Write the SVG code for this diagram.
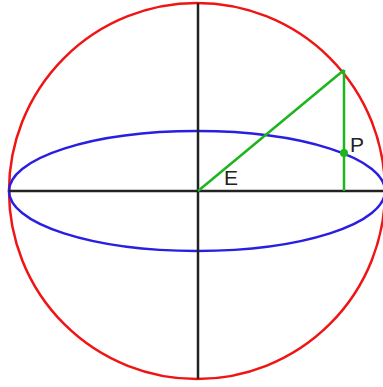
<svg xmlns="http://www.w3.org/2000/svg" width="383" height="387" viewBox="0 0 383 387">
<style>
text{font-family:"Liberation Sans",Arial,sans-serif;font-size:21px;fill:#222}
</style>
<rect x="0" y="0" width="383" height="387" fill="#ffffff"/>
<g id="sphere" fill="none" stroke="#f01414" stroke-width="2.5">
<path d="M9,191 A188,188 0 0 1 385,191"/>
<path d="M385,191 A188,188 0 0 1 9,191"/>
</g>
<g id="equator"><ellipse cx="197" cy="191" rx="188" ry="60" fill="none" stroke="#2a1ee0" stroke-width="2.5"/></g>
<g id="connectors" fill="none">
<line x1="198" y1="3" x2="198" y2="379" stroke="#222222" stroke-width="2.5"/>
<line x1="9" y1="191" x2="383" y2="191" stroke="#222222" stroke-width="2.5"/>
<line x1="198" y1="191" x2="344" y2="70" stroke="#1db51d" stroke-width="2.5"/>
<line x1="344" y1="70" x2="344" y2="191" stroke="#1db51d" stroke-width="2.5"/>
</g>
<g id="P"><circle cx="344" cy="153" r="4" fill="#1db51d"/><text x="350" y="152">P</text></g>
<g id="E"><text x="224" y="185">E</text></g>
</svg>
